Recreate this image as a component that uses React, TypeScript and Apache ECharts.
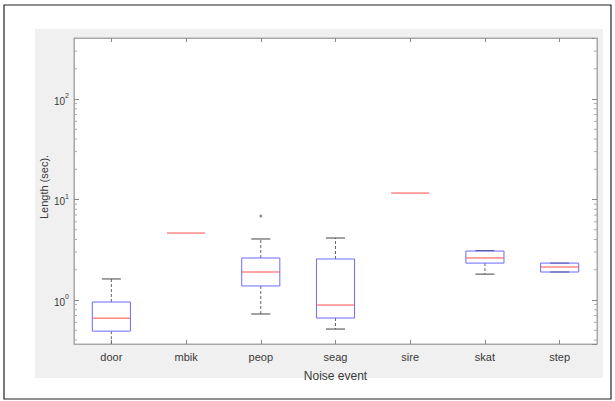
import React, { useEffect, useRef } from "react";
import * as echarts from "echarts";

const categories = ["door", "mbik", "peop", "seag", "sire", "skat", "step"];
const lowerWhisker = [0.3, 4.64, 0.726, 0.514, 11.6, 1.81, 1.9];
const q1Values = [0.49, 4.64, 1.38, 0.662, 11.6, 2.33, 1.9];
const medianValues = [0.66, 4.64, 1.9, 0.892, 11.6, 2.62, 2.13];
const q3Values = [0.955, 4.64, 2.62, 2.56, 11.6, 3.07, 2.33];
const upperWhisker = [1.62, 4.64, 4.05, 4.14, 11.6, 3.1, 2.33];
const outliers: [string, number][] = [["peop", 6.85]];
const yMin = 0.365;
const yMax = 405;
const minorTickValues = [
  0.4, 0.5, 0.6, 0.7, 0.8, 0.9,
  2, 3, 4, 5, 6, 7, 8, 9,
  20, 30, 40, 50, 60, 70, 80, 90,
  200, 300, 400,
];

const FONT = "'Liberation Sans', Arial, Helvetica, sans-serif";

export default function App() {
  const ref = useRef<HTMLDivElement>(null);
  useEffect(() => {
    if (!ref.current) return;
    const chart = echarts.init(ref.current, null, { renderer: "svg" });
    const boxData = categories.map((_, i) => [
      i,
      lowerWhisker[i],
      q1Values[i],
      medianValues[i],
      q3Values[i],
      upperWhisker[i],
    ]);
    const labelFmt = (v: number) => {
      const e = Math.round(Math.log10(v));
      if (Math.abs(v - Math.pow(10, e)) > 1e-6 * v) return "";
      return `{b|10}{s|${e}}`;
    };
    const option: any = {
      animation: false,
      backgroundColor: "#ffffff",
      graphic: [
        {
          type: "rect",
          z: -100,
          shape: { x: 4, y: 5, width: 607, height: 394 },
          style: { fill: "#ffffff", stroke: "#222222", lineWidth: 1.2 },
          silent: true,
        },
        {
          type: "rect",
          z: -90,
          shape: { x: 35, y: 29, width: 568, height: 349 },
          style: { fill: "#f0f0f0" },
          silent: true,
        },
      ],
      grid: {
        left: 74,
        right: 18,
        top: 38,
        bottom: 57,
        show: true,
        backgroundColor: "#ffffff",
        borderColor: "#a8a8a8",
        borderWidth: 1,
      },
      xAxis: [
        {
          type: "category",
          data: categories,
          boundaryGap: true,
          name: "Noise event",
          nameLocation: "middle",
          nameGap: 26,
          nameTextStyle: { fontFamily: FONT, fontSize: 12, color: "#3a3a3a" },
          axisLine: { show: true, lineStyle: { color: "#a8a8a8" } },
          axisTick: { show: true, inside: true, alignWithLabel: true, length: 4, lineStyle: { color: "#888" } },
          axisLabel: { fontFamily: FONT, fontSize: 11, color: "#3a3a3a", margin: 7 },
          splitLine: { show: false },
        },
        {
          type: "category",
          data: categories,
          position: "top",
          boundaryGap: true,
          axisLine: { show: true, lineStyle: { color: "#a8a8a8" } },
          axisTick: { show: true, inside: true, alignWithLabel: true, length: 4, lineStyle: { color: "#888" } },
          axisLabel: { show: false },
          splitLine: { show: false },
        },
      ],
      yAxis: [
        {
          type: "log",
          logBase: 10,
          min: yMin,
          max: yMax,
          name: "Length (sec).",
          nameLocation: "middle",
          nameGap: 25,
          nameMoveOverlap: false,
          nameTextStyle: { fontFamily: FONT, fontSize: 11, color: "#3a3a3a", padding: [0, 0, 0, 8] },
          axisLine: { show: true, lineStyle: { color: "#a8a8a8" } },
          axisTick: { show: true, inside: true, length: 5, lineStyle: { color: "#888" } },
          axisLabel: {
            formatter: labelFmt,
            showMinLabel: false,
            showMaxLabel: false,
            margin: 5,
            rich: {
              b: { fontFamily: FONT, fontSize: 10, color: "#3a3a3a", lineHeight: 14, verticalAlign: "bottom" },
              s: { fontFamily: FONT, fontSize: 7, color: "#3a3a3a", lineHeight: 7, verticalAlign: "top" },
            },
          },
          splitLine: { show: false },
        },
        {
          type: "log",
          logBase: 10,
          min: yMin,
          max: yMax,
          position: "right",
          axisLine: { show: true, lineStyle: { color: "#a8a8a8" } },
          axisTick: { show: true, inside: true, length: 5, lineStyle: { color: "#888" } },
          axisLabel: { show: false },
          splitLine: { show: false },
        },
      ],
      series: [
        {
          type: "custom",
          name: "minorTicks",
          xAxisIndex: 0,
          yAxisIndex: 0,
          silent: true,
          data: minorTickValues.map((v) => [0, v]),
          renderItem: (params: any, api: any) => {
            const cs = params.coordSys;
            const y = api.coord([0, api.value(1)])[1];
            const st = { stroke: "#aaaaaa", lineWidth: 1 };
            return {
              type: "group",
              children: [
                { type: "line", shape: { x1: cs.x, y1: y, x2: cs.x + 3, y2: y }, style: st },
                { type: "line", shape: { x1: cs.x + cs.width - 3, y1: y, x2: cs.x + cs.width, y2: y }, style: st },
              ],
            };
          },
        },
        {
          type: "custom",
          name: "boxes",
          xAxisIndex: 0,
          yAxisIndex: 0,
          clip: true,
          silent: true,
          data: boxData,
          renderItem: (params: any, api: any) => {
            const cs = params.coordSys;
            const i = api.value(0);
            const band = cs.width / categories.length;
            const bw = band * 0.51;
            const x = api.coord([i, api.value(3)])[0];
            const yLo = api.coord([i, api.value(1)])[1];
            const yQ1 = api.coord([i, api.value(2)])[1];
            const yMed = api.coord([i, api.value(3)])[1];
            const yQ3 = api.coord([i, api.value(4)])[1];
            const yHi = api.coord([i, api.value(5)])[1];
            const whisk = { stroke: "#666666", lineWidth: 1, lineDash: [3, 2] };
            const cap = { stroke: "#444444", lineWidth: 1 };
            const children: any[] = [];
            const degenerate = Math.abs(yQ1 - yQ3) < 0.5 && Math.abs(yLo - yHi) < 0.5;
            if (!degenerate) {
              if (yHi < yQ3) children.push({ type: "line", shape: { x1: x, y1: yQ3, x2: x, y2: yHi }, style: whisk });
              if (yLo > yQ1) children.push({ type: "line", shape: { x1: x, y1: yQ1, x2: x, y2: yLo }, style: whisk });
              children.push({ type: "line", shape: { x1: x - bw / 4, y1: yHi, x2: x + bw / 4, y2: yHi }, style: cap });
              children.push({ type: "line", shape: { x1: x - bw / 4, y1: yLo, x2: x + bw / 4, y2: yLo }, style: cap });
              children.push({
                type: "rect",
                shape: { x: x - bw / 2, y: yQ3, width: bw, height: yQ1 - yQ3 },
                style: { fill: "none", stroke: "#6b6bff", lineWidth: 1 },
              });
            }
            children.push({
              type: "line",
              shape: { x1: x - bw / 2, y1: yMed, x2: x + bw / 2, y2: yMed },
              style: { stroke: "#ff4d4d", lineWidth: 1 },
            });
            return { type: "group", children };
          },
        },
        {
          type: "scatter",
          name: "outliers",
          xAxisIndex: 0,
          yAxisIndex: 0,
          silent: true,
          symbol: "circle",
          symbolSize: 3,
          itemStyle: { color: "#777777" },
          data: outliers,
        },
      ],
    };
    chart.setOption(option);
    return () => chart.dispose();
  }, []);
  return (
    <div
      ref={ref}
      style={{ position: "fixed", left: 0, top: 0, width: 615, height: 401 }}
    />
  );
}
